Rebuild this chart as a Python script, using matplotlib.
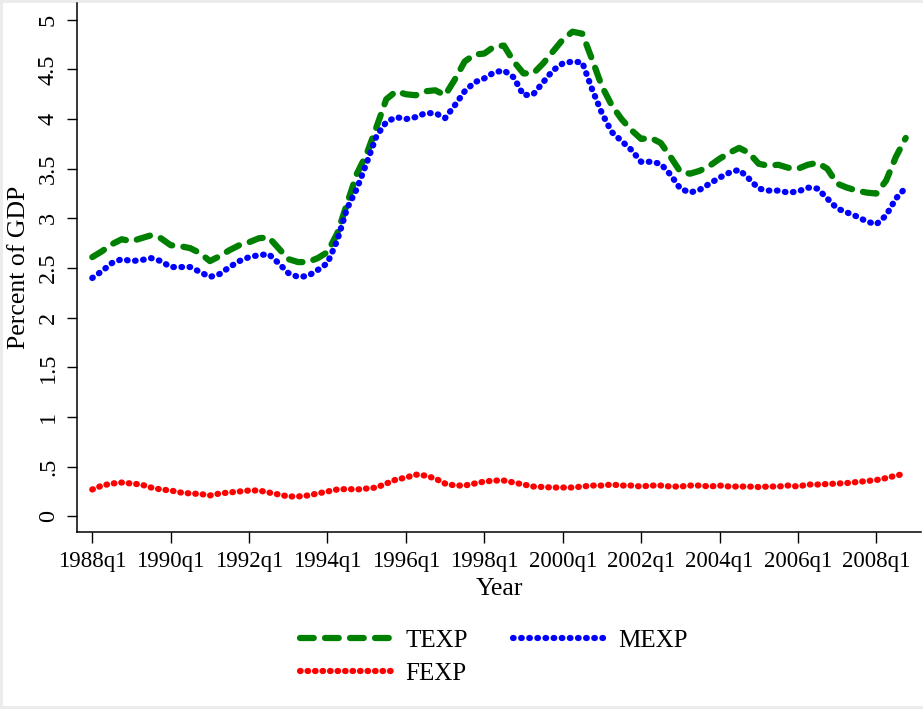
import matplotlib
matplotlib.use("Agg")
import matplotlib.pyplot as plt
from matplotlib.patches import Rectangle
import numpy as np

# quarterly series, 1988q1 .. 2008q4 (percent of GDP)
texp = [2.61, 2.67, 2.74, 2.79, 2.77, 2.80, 2.83, 2.80, 2.73, 2.72, 2.70, 2.65,
        2.57, 2.62, 2.68, 2.73, 2.76, 2.80, 2.81, 2.70, 2.59, 2.56, 2.56, 2.60,
        2.66, 2.85, 3.15, 3.45, 3.65, 3.92, 4.20, 4.28, 4.25, 4.24, 4.28, 4.29,
        4.24, 4.40, 4.58, 4.65, 4.66, 4.73, 4.74, 4.58, 4.46, 4.46, 4.56, 4.68,
        4.80, 4.88, 4.86, 4.60, 4.33, 4.14, 4.00, 3.89, 3.80, 3.81, 3.76, 3.62,
        3.47, 3.45, 3.48, 3.53, 3.60, 3.66, 3.71, 3.66, 3.55, 3.53, 3.54, 3.51,
        3.50, 3.54, 3.56, 3.50, 3.35, 3.31, 3.28, 3.26, 3.25, 3.38, 3.62, 3.81]

mexp = [2.40, 2.47, 2.55, 2.59, 2.57, 2.58, 2.60, 2.57, 2.51, 2.51, 2.51, 2.46,
        2.41, 2.44, 2.51, 2.57, 2.61, 2.63, 2.64, 2.55, 2.45, 2.41, 2.42, 2.48,
        2.55, 2.78, 3.10, 3.30, 3.56, 3.83, 3.97, 4.02, 4.00, 4.02, 4.06, 4.06,
        4.01, 4.14, 4.28, 4.37, 4.41, 4.47, 4.49, 4.42, 4.24, 4.25, 4.37, 4.49,
        4.56, 4.58, 4.57, 4.30, 4.06, 3.87, 3.78, 3.69, 3.57, 3.57, 3.55, 3.44,
        3.30, 3.26, 3.29, 3.35, 3.41, 3.46, 3.49, 3.40, 3.30, 3.28, 3.28, 3.26,
        3.27, 3.31, 3.30, 3.20, 3.10, 3.06, 3.02, 2.97, 2.94, 3.03, 3.20, 3.31]

fexp = [0.27, 0.31, 0.33, 0.34, 0.33, 0.32, 0.29, 0.27, 0.26, 0.24, 0.23, 0.225,
        0.21, 0.23, 0.24, 0.25, 0.26, 0.26, 0.24, 0.22, 0.20, 0.20, 0.21, 0.23,
        0.25, 0.27, 0.275, 0.27, 0.28, 0.29, 0.33, 0.37, 0.39, 0.42, 0.41, 0.38,
        0.33, 0.31, 0.31, 0.33, 0.35, 0.36, 0.36, 0.34, 0.32, 0.30, 0.295, 0.29,
        0.29, 0.29, 0.30, 0.31, 0.31, 0.32, 0.31, 0.31, 0.30, 0.31, 0.31, 0.30,
        0.30, 0.31, 0.31, 0.30, 0.31, 0.30, 0.30, 0.30, 0.295, 0.30, 0.30, 0.31,
        0.30, 0.32, 0.32, 0.325, 0.33, 0.335, 0.345, 0.355, 0.365, 0.385, 0.41, 0.43]

quarters = [f"{y}q{q}" for y in range(1988, 2009) for q in range(1, 5)]
xtick_labels = [f"{y}q1" for y in range(1988, 2009, 2)]
ytick_vals = [0, 0.5, 1, 1.5, 2, 2.5, 3, 3.5, 4, 4.5, 5]
ytick_labels = ["0", ".5", "1", "1.5", "2", "2.5", "3", "3.5", "4", "4.5", "5"]

plt.rcParams['font.family'] = ['Liberation Serif', 'DejaVu Serif']

W, H = 923, 709
fig = plt.figure(figsize=(W / 100, H / 100), dpi=100, facecolor='#ececec')
# white graph region inside a thin grey margin
fig.patches.append(Rectangle((3 / W, 3 / H), 1, (H - 6) / H, transform=fig.transFigure,
                             facecolor='white', edgecolor='none', zorder=-10))

ax = fig.add_axes([77 / W, (H - 532) / H, 844 / W, 529 / H])
ax.set_facecolor('white')

x = np.arange(len(quarters))
lw = 4.5
l1, = ax.plot(x, texp, color='#008000', lw=lw, dashes=(2.2, 1.8),
              dash_capstyle='round', label='TEXP')
l2, = ax.plot(x, mexp, color='#0000ff', lw=lw, dashes=(0.1, 1.2),
              dash_capstyle='round', label='MEXP')
l3, = ax.plot(x, fexp, color='#ff0000', lw=lw, dashes=(0.1, 1.1),
              dash_capstyle='round', label='FEXP')

ax.set_xlim(-1.56, 84.56)
ax.set_ylim(-0.158, 5.169)

ax.set_xticks([quarters.index(t) for t in xtick_labels])
ax.set_xticklabels(xtick_labels)
ax.set_yticks(ytick_vals)
ax.set_yticklabels(ytick_labels, rotation=90, va='center')

ax.tick_params(axis='x', length=8, width=1, pad=6, labelsize=16.5)
ax.tick_params(axis='y', length=7, width=1, pad=6, labelsize=17.5)

for s in ['top', 'right']:
    ax.spines[s].set_visible(False)
for s in ['left', 'bottom']:
    ax.spines[s].set_linewidth(1.1)

ax.set_xlabel("Year", fontsize=18.5, labelpad=4)
ax.set_ylabel("Percent of GDP", fontsize=18.5, labelpad=6)

fig.legend([l1, l3, l2], ['TEXP', 'FEXP', 'MEXP'], ncol=2, frameon=False,
           loc='center', bbox_to_anchor=(494 / W, 52 / H), fontsize=18,
           handlelength=3.7, handletextpad=0.5, columnspacing=1.8,
           labelspacing=0.4)

fig.savefig("out.png", dpi=100, facecolor=fig.get_facecolor())
